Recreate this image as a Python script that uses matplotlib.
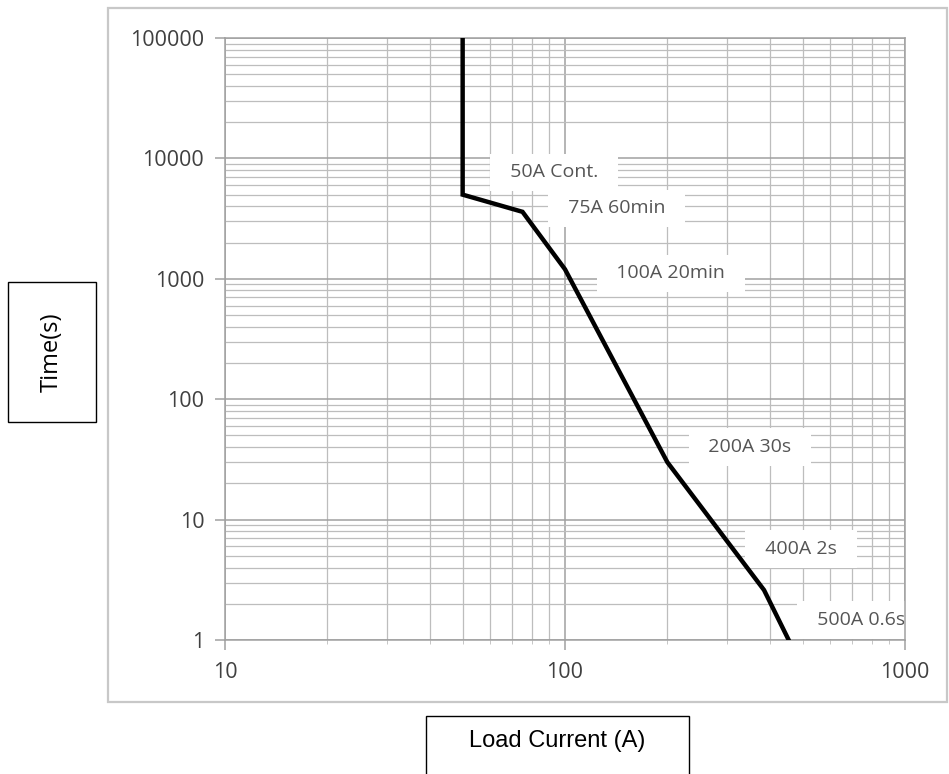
import matplotlib
matplotlib.use("Agg")
import matplotlib.pyplot as plt
from matplotlib.patches import Rectangle
from matplotlib.ticker import LogLocator, FixedLocator, NullFormatter

# trip curve: load current (A) vs time (s)
current = [50, 50, 75, 100, 200, 385, 455]
time_s = [100000, 5000, 3600, 1200, 30, 2.6, 1]

point_labels = ['50A Cont.', '75A 60min', '100A 20min', '200A 30s', '400A 2s', '500A 0.6s']
# where each label sits (data coords)
label_pos = [(93, 7650), (142, 3850), (205, 1110), (350, 40), (494, 5.7), (743, 1.47)]

x_ticks = [10, 100, 1000]
y_ticks = [1, 10, 100, 1000, 10000, 100000]

plt.rcParams['font.family'] = ['Open Sans', 'DejaVu Sans']

fig = plt.figure(figsize=(9.49, 7.74), dpi=100)
ax = fig.add_axes([0.2371, 0.1731, 0.7165, 0.7778])

ax.set_xscale('log')
ax.set_yscale('log')
ax.set_xlim(10, 1000)
ax.set_ylim(1, 100000)

ax.xaxis.set_major_locator(FixedLocator(x_ticks))
ax.yaxis.set_major_locator(FixedLocator(y_ticks))
ax.xaxis.set_minor_locator(LogLocator(base=10, subs=range(2, 10)))
ax.yaxis.set_minor_locator(LogLocator(base=10, subs=range(2, 10)))
ax.xaxis.set_minor_formatter(NullFormatter())
ax.yaxis.set_minor_formatter(NullFormatter())
ax.set_xticklabels([str(v) for v in x_ticks])
ax.set_yticklabels([str(v) for v in y_ticks])

ax.grid(which='major', color='#a0a0a0', linewidth=1.1)
ax.grid(which='minor', color='#bdbdbd', linewidth=0.9)
ax.set_axisbelow(True)
for s in ax.spines.values():
    s.set_color('#a0a0a0')
    s.set_linewidth(1.1)

ax.tick_params(axis='both', which='major', labelsize=15.5, colors='#a0a0a0',
               labelcolor='#404040', length=7, width=1.1)
ax.tick_params(axis='y', which='major', pad=8)
ax.tick_params(axis='x', which='major', pad=9)
ax.tick_params(axis='x', which='minor', length=3, color='#bdbdbd')
ax.tick_params(axis='y', which='minor', length=0)

ax.plot(current, time_s, color='black', linewidth=3.2, solid_joinstyle='miter', zorder=3)

for txt, (lx, ly) in zip(point_labels, label_pos):
    ax.text(lx, ly, '  ' + txt + '  ', fontsize=14, color='#555555',
            ha='center', va='center', zorder=2,
            bbox=dict(boxstyle='square,pad=0.5', facecolor='white', edgecolor='none'))

# outer chart frame
fig.patches.append(Rectangle((0.1138, 0.093), 0.884, 0.8967, transform=fig.transFigure,
                             fill=False, edgecolor='#c8c8c8', linewidth=1.6))

# axis title boxes
fig.patches.append(Rectangle((0.0084, 0.4548), 0.0927, 0.1809, transform=fig.transFigure,
                             fill=False, edgecolor='black', linewidth=1.0))
fig.text(0.0084 + 0.0927 / 2, 0.4548 + 0.1809 / 2, 'Time(s)', rotation=90,
         ha='center', va='center', fontsize=17, color='black')

fig.patches.append(Rectangle((0.4489, -0.02), 0.2771, 0.0949, transform=fig.transFigure,
                             fill=False, edgecolor='black', linewidth=1.0))
fig.text(0.4489 + 0.2771 / 2, 0.043, 'Load Current (A)', ha='center', va='center',
         fontsize=17, color='black', family=['Liberation Sans', 'DejaVu Sans'])

fig.savefig('out.png', dpi=100)
